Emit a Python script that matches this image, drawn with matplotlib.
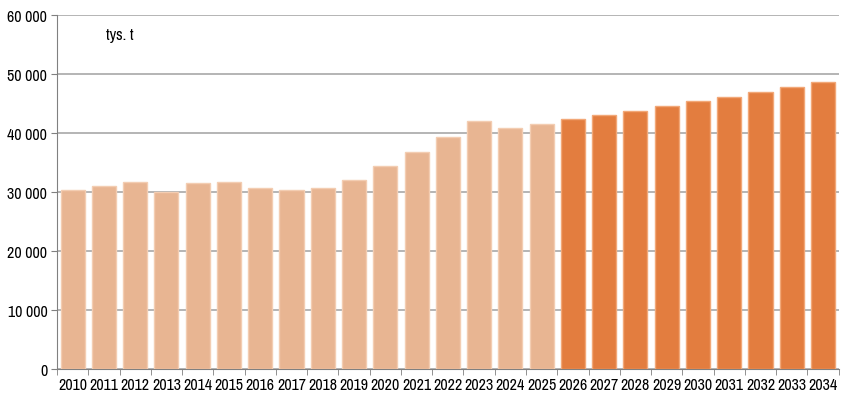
import numpy as np
import matplotlib.pyplot as plt
from matplotlib.ticker import FuncFormatter, MultipleLocator

lata = list(range(2010, 2035))
wartosci = [30400, 31070, 31700, 30000, 31580, 31750, 30620, 30340, 30680, 31980,
            34400, 36780, 39270, 41980, 40790, 41530, 42310, 43110, 43790, 44630,
            45370, 46160, 47010, 47850, 48590]
prognoza_od = 2026

plt.rcParams['font.family'] = ['Archivo Narrow', 'Roboto Condensed', 'DejaVu Sans']

kol_hist = '#E8B592'
kol_prog = '#E37D3F'

fig = plt.figure(figsize=(8.48, 4.02), dpi=100)
ax = fig.add_axes([0.0672, 0.0796, 0.9218, 0.8806])

x = np.arange(len(lata))
kolory = [kol_prog if r >= prognoza_od else kol_hist for r in lata]
krawedzie = ['#F2A878' if r >= prognoza_od else '#F3CDB2' for r in lata]
ax.bar(x, wartosci, width=0.77, color=kolory, edgecolor=krawedzie, linewidth=1, zorder=3)

ax.set_xlim(-0.5, len(lata) - 0.5)
ax.set_ylim(0, 60000)
ax.yaxis.set_major_locator(MultipleLocator(10000))
ax.yaxis.set_major_formatter(FuncFormatter(lambda v, p: f"{int(v):,}".replace(",", " ")))
ax.set_xticks(x)
ax.set_xticklabels([str(r) for r in lata])
ax.set_xticks(np.arange(-0.5, len(lata), 1), minor=True)
ax.tick_params(axis='x', which='major', length=0, labelsize=11.5, pad=6)
ax.tick_params(axis='x', which='minor', length=4, color='#808080', direction='out')
ax.tick_params(axis='y', length=4, color='#808080', labelsize=11.5, pad=3)

ax.grid(axis='y', color='#A8A8A8', linewidth=1.2, zorder=0)
for s in ['top', 'right']:
    ax.spines[s].set_visible(False)
ax.spines['left'].set_color('#808080')
ax.spines['bottom'].set_color('#808080')

ax.text(0.063, 0.945, 'tys. t', transform=ax.transAxes, fontsize=11.5, ha='left', va='center')

fig.savefig('out.png', dpi=100)
